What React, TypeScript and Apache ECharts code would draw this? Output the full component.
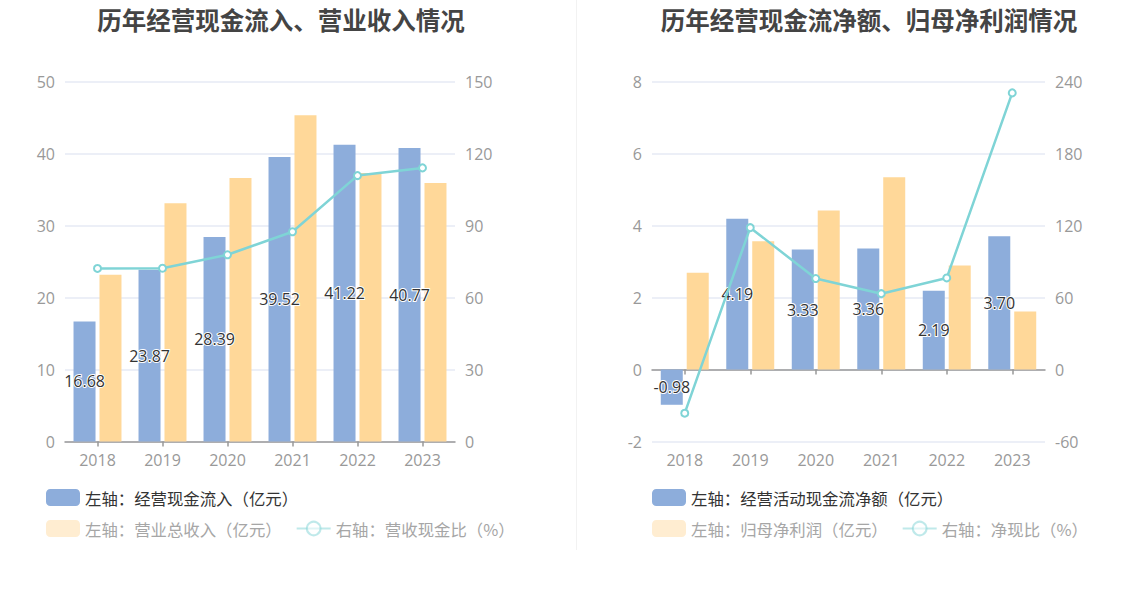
import React, { useEffect, useRef } from "react";
import * as echarts from "echarts";

const years = ["2018", "2019", "2020", "2021", "2022", "2023"];

// Left chart
const cashInflow = [16.68, 23.87, 28.39, 39.52, 41.22, 40.77];
const revenue = [23.15, 33.1, 36.6, 45.3, 37.3, 35.9];
const cashRevenueRatio = [72.1, 72.2, 77.8, 87.4, 110.8, 114.0];

// Right chart
const netCashFlow = [-0.98, 4.19, 3.33, 3.36, 2.19, 3.7];
const netProfit = [2.69, 3.56, 4.42, 5.34, 2.89, 1.61];
const netCashRatio = [-36.4, 118.2, 75.8, 63.2, 76.3, 230.5];

const leftNames = ["左轴：经营现金流入（亿元）", "左轴：营业总收入（亿元）", "右轴：营收现金比（%）"];
const rightNames = ["左轴：经营活动现金流净额（亿元）", "左轴：归母净利润（亿元）", "右轴：净现比（%）"];
const titles = ["历年经营现金流入、营业收入情况", "历年经营现金流净额、归母净利润情况"];

const BLUE = "#8DADDB";
const ORANGE = "#FFD899";
const CYAN = "#7FD4D6";
const FONT = "'Open Sans', 'Noto Sans CJK SC', sans-serif";
const CJK = "'Noto Sans CJK SC', sans-serif";

export default function App() {
  const ref = useRef<HTMLDivElement>(null);

  useEffect(() => {
    if (!ref.current) return;
    const chart = echarts.init(ref.current, undefined, { renderer: "svg" });

    const grids = [
      { left: 65, top: 81.5, width: 390, height: 360 },
      { left: 652, top: 81.5, width: 393, height: 360 },
    ];

    const xAxes: any[] = [];
    const yAxes: any[] = [];
    const yRanges = [
      [[0, 50, 10], [0, 150, 30]],
      [[-2, 8, 2], [-60, 240, 60]],
    ];
    grids.forEach((_, gi) => {
      xAxes.push({
        type: "category",
        gridIndex: gi,
        data: years,
        position: "bottom",
        axisLine: { show: false, onZero: false },
        axisTick: { show: false },
        axisLabel: { color: "#999", fontSize: 16, margin: 10, fontFamily: FONT },
        splitLine: { show: false },
      });
      xAxes.push({
        type: "category",
        gridIndex: gi,
        data: years,
        position: "bottom",
        axisLine: { show: true, onZero: true, lineStyle: { color: "#999", width: 1.5 } },
        axisTick: { show: true, alignWithLabel: true, length: 5, lineStyle: { color: "#999", width: 1.5 } },
        axisLabel: { show: false },
        splitLine: { show: false },
      });
      yRanges[gi].forEach((r, side) => {
        yAxes.push({
          type: "value",
          gridIndex: gi,
          position: side === 0 ? "left" : "right",
          min: r[0],
          max: r[1],
          interval: r[2],
          axisLine: { show: false },
          axisTick: { show: false },
          axisLabel: { color: "#999", fontSize: 16, margin: 10, fontFamily: FONT },
          splitLine: side === 0 ? { show: true, lineStyle: { color: "#E6EAF5", width: 1.5 } } : { show: false },
        });
      });
    });

    const barLabel = {
      show: true,
      position: "inside",
      color: "#333",
      fontSize: 16,
      fontFamily: FONT,
      textBorderColor: "#fff",
      textBorderWidth: 2,
      formatter: (p: any) => Number(p.value).toFixed(2),
    };

    const makeSeries = (gi: number, names: string[], blue: number[], orange: number[], line: number[]) => [
      {
        name: names[0],
        type: "bar",
        xAxisIndex: gi * 2,
        yAxisIndex: gi * 2,
        data: blue,
        barWidth: 22,
        barGap: "18%",
        itemStyle: { color: BLUE },
        label: barLabel,
        z: 2,
      },
      {
        name: names[1],
        type: "bar",
        xAxisIndex: gi * 2,
        yAxisIndex: gi * 2,
        data: orange,
        barWidth: 22,
        barGap: "18%",
        itemStyle: { color: ORANGE },
        z: 2,
      },
      {
        name: names[2],
        type: "line",
        xAxisIndex: gi * 2,
        yAxisIndex: gi * 2 + 1,
        data: line,
        symbol: "emptyCircle",
        symbolSize: 7,
        lineStyle: { color: CYAN, width: 2.5 },
        itemStyle: { color: CYAN, borderColor: CYAN, borderWidth: 2 },
        z: 5,
      },
    ];

    const legendText = { fontSize: 16.4, fontFamily: CJK };
    const makeLegends = (left: number, names: string[]) => [
      {
        left,
        top: 489,
        padding: 0,
        itemWidth: 34,
        itemHeight: 17,
        icon: "roundRect",
        data: [{ name: names[0], textStyle: { color: "#333" } }],
        textStyle: legendText,
        selectedMode: false,
      },
      {
        left,
        top: 520,
        padding: 0,
        itemWidth: 34,
        itemHeight: 17,
        itemGap: 14,
        data: [
          { name: names[1], icon: "roundRect", itemStyle: { opacity: 0.45 }, textStyle: { color: "#a6a6a6" } },
          { name: names[2], itemStyle: { opacity: 0.5 }, lineStyle: { opacity: 0.5 }, textStyle: { color: "#a6a6a6" } },
        ],
        textStyle: legendText,
        selectedMode: false,
      },
    ];

    const titleStyle = { fontSize: 24.5, fontWeight: "bold", color: "#444", fontFamily: CJK };

    chart.setOption({
      animation: false,
      backgroundColor: "#fff",
      title: [
        { text: titles[0], left: 276, top: 2, textAlign: "center", textStyle: titleStyle },
        { text: titles[1], left: 864, top: 2, textAlign: "center", textStyle: titleStyle },
      ],
      grid: grids,
      xAxis: xAxes,
      yAxis: yAxes,
      legend: [...makeLegends(46, leftNames), ...makeLegends(652, rightNames)],
      series: [
        ...makeSeries(0, leftNames, cashInflow, revenue, cashRevenueRatio),
        ...makeSeries(1, rightNames, netCashFlow, netProfit, netCashRatio),
      ],
      graphic: [
        {
          type: "line",
          shape: { x1: 576.5, y1: 0, x2: 576.5, y2: 550 },
          style: { stroke: "#f2f2f2", lineWidth: 1 },
          silent: true,
        },
      ],
    });

    return () => chart.dispose();
  }, []);

  return (
    <div
      ref={ref}
      style={{ position: "absolute", left: 0, top: 0, width: 1148, height: 589 }}
    />
  );
}
